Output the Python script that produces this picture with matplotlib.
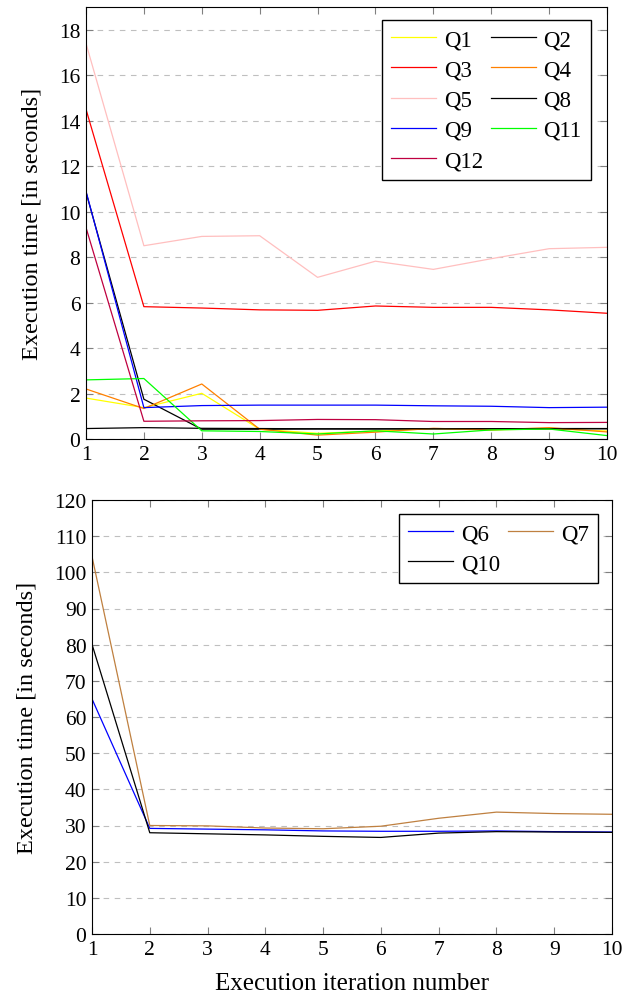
import matplotlib.pyplot as plt

plt.rcParams['font.family'] = ['Liberation Serif', 'DejaVu Serif']
plt.rcParams['font.size'] = 15.5

iterations = [1, 2, 3, 4, 5, 6, 7, 8, 9, 10]

# upper chart (short queries)
q1 = [1.8, 1.38, 2.01, 0.43, 0.25, 0.35, 0.45, 0.4, 0.45, 0.35]
q2 = [10.85, 1.75, 0.43, 0.43, 0.44, 0.44, 0.45, 0.45, 0.46, 0.46]
q3 = [14.5, 5.82, 5.76, 5.68, 5.66, 5.85, 5.79, 5.79, 5.68, 5.53]
q4 = [2.2, 1.34, 2.42, 0.43, 0.17, 0.3, 0.47, 0.4, 0.5, 0.31]
q5 = [17.4, 8.5, 8.91, 8.94, 7.11, 7.82, 7.46, 7.93, 8.37, 8.43]
q8 = [0.46, 0.5, 0.47, 0.46, 0.45, 0.45, 0.45, 0.45, 0.45, 0.45]
q9 = [10.9, 1.38, 1.47, 1.49, 1.49, 1.49, 1.46, 1.44, 1.38, 1.4]
q11 = [2.6, 2.66, 0.36, 0.33, 0.22, 0.36, 0.22, 0.4, 0.44, 0.15]
q12 = [9.3, 0.78, 0.8, 0.81, 0.86, 0.85, 0.77, 0.77, 0.72, 0.73]

# lower chart (long queries)
q6 = [65, 29.2, 29.0, 28.8, 28.5, 28.4, 28.4, 28.5, 28.3, 28.2]
q7 = [104.4, 30.0, 29.9, 29.3, 29.1, 29.8, 32.0, 33.7, 33.3, 33.1]
q10 = [80.1, 28.0, 27.7, 27.4, 27.0, 26.7, 27.9, 28.3, 28.2, 28.1]

top_series = [('Q1', q1, '#FFFF00'), ('Q2', q2, '#000000'), ('Q3', q3, '#FF0000'),
              ('Q4', q4, '#FF8000'), ('Q5', q5, '#FFBFBF'), ('Q8', q8, '#000000'),
              ('Q9', q9, '#0000FF'), ('Q11', q11, '#00FF00'), ('Q12', q12, '#BF0040')]
bottom_series = [('Q6', q6, '#0000FF'), ('Q7', q7, '#BF8040'), ('Q10', q10, '#000000')]


def style_axes(ax, ymax, ystep):
  ax.set_xlim(1, 10)
  ax.set_ylim(0, ymax)
  ax.set_xticks(iterations)
  ax.set_yticks(range(0, ymax + 1, ystep))
  ax.tick_params(direction='in', top=True, right=True, length=5, color='#808080',
                 width=0.8, labelsize=15.5, pad=4)
  ax.yaxis.grid(True, linestyle=(0, (5, 5)), color='#BFBFBF', linewidth=0.8)
  ax.set_axisbelow(True)
  for s in ax.spines.values():
    s.set_linewidth(0.8)
  ax.set_ylabel('Execution time [in seconds]', fontsize=17.5, labelpad=12)


def add_legend(ax, hdict, order, anchor):
  ax.legend([hdict[n] for n in order], order, ncol=2, loc='upper right',
            bbox_to_anchor=anchor, fancybox=False, edgecolor='black', framealpha=1,
            fontsize=16.5, handlelength=1.95, handletextpad=0.35, columnspacing=0.35,
            borderpad=0.4, labelspacing=0.4, borderaxespad=0)


fig = plt.figure(figsize=(6.36, 9.95), dpi=100)
W, H = 636, 995
ax1 = fig.add_axes([86 / W, 1 - 440 / H, (607 - 86) / W, (440 - 8) / H])
ax2 = fig.add_axes([92 / W, 1 - 935 / H, (612 - 92) / W, (935 - 501) / H])

handles = {}
for name, vals, color in top_series:
  handles[name], = ax1.plot(iterations, vals, color=color, lw=0.9)
style_axes(ax1, 19, 2)
ax1.set_yticks(range(0, 19, 2))
add_legend(ax1, handles, ['Q1', 'Q3', 'Q5', 'Q9', 'Q12', 'Q2', 'Q4', 'Q8', 'Q11'], (0.969, 0.970))

handles2 = {}
for name, vals, color in bottom_series:
  handles2[name], = ax2.plot(iterations, vals, color=color, lw=0.9)
style_axes(ax2, 120, 10)
ax2.set_xlabel('Execution iteration number', fontsize=18, labelpad=10)
add_legend(ax2, handles2, ['Q6', 'Q10', 'Q7'], (0.973, 0.968))

fig.savefig('out.png', dpi=100)
